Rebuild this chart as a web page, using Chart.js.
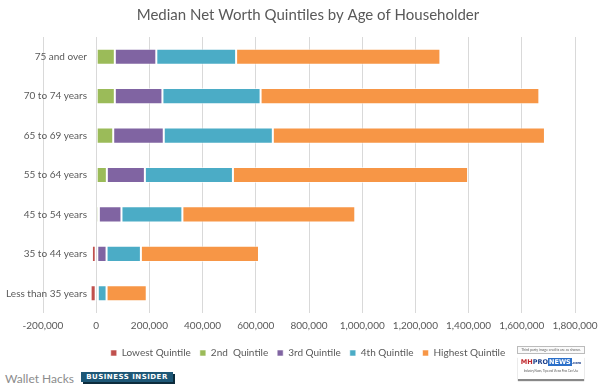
<!DOCTYPE html>
<html>
<head>
<meta charset="utf-8">
<script src="https://cdn.jsdelivr.net/npm/chart.js@4.4.0/dist/chart.umd.min.js"></script>
<style>
  html, body { margin:0; padding:0; background:#fff; width:600px; height:391px; overflow:hidden; }
  #wrap { position:absolute; left:0; top:0; width:620px; height:368px; }
  .src { position:absolute; font-family:Lato, sans-serif; white-space:nowrap; }
  #wh { left:5px; top:371px; font-size:12px; color:#8c8c8c; }
  #bi { left:81px; top:372px; width:92px; height:10px; background:#1d5776; color:#fff;
        font-family:"DejaVu Sans", sans-serif; font-weight:bold; font-size:7px; line-height:10px;
        letter-spacing:0.5px; text-align:center; box-shadow:2px 2px 0 #0c2c3c; }
  #mh { left:517px; top:346px; width:68px; height:36px; }
  #mh .cr { position:absolute; left:0; top:0; width:66px; height:6px; border:1px solid #bbb; background:#fafafa;
            font-size:3.5px; line-height:6px; color:#666; text-align:center; }
  #mh .lg { position:absolute; left:1px; top:10px; width:66px; height:23px; background:#fff;
            box-shadow:0 2px 1px #888; text-align:center; }
  #mh .nm { font-family:"DejaVu Sans", sans-serif; font-weight:bold; font-size:6.5px; line-height:12px; }
  #mh .tg { font-size:2.8px; color:#555; line-height:4px; }
</style>
</head>
<body>
<div id="wrap"><canvas id="chart" width="620" height="368"></canvas></div>
<div class="src" id="wh">Wallet Hacks</div>
<div class="src" id="bi">BUSINESS INSIDER</div>
<div class="src" id="mh">
  <div class="cr">Third party image credits are as shown.</div>
  <div class="lg">
    <div class="nm"><span style="color:#c0282d">MH</span><span style="color:#1b3f8b">PRO</span><span style="background:#2a6fc9;color:#fff;padding:0 1px">NEWS</span><span style="color:#1b3f8b;font-size:3.5px">.com</span></div>
    <div class="tg">Industry News, Tips and Views Pros Can Use</div>
  </div>
</div>
<script>
// age groups, top to bottom
const ageGroups = ['75 and over', '70 to 74 years', '65 to 69 years', '55 to 64 years',
                   '45 to 54 years', '35 to 44 years', 'Less than 35 years'];

// median net worth ($) per quintile
const lowestQ  = [0, 0, 0, 0, -4000, -16000, -21000];
const secondQ  = [70000, 70000, 64000, 40000, 10000, 4000, 1000];
const thirdQ   = [156000, 179000, 190000, 143000, 85000, 35000, 5000];
const fourthQ  = [300000, 369000, 410000, 331000, 229000, 129000, 33000];
const highestQ = [768000, 1048000, 1023000, 884000, 650000, 444000, 151000];

const seriesNames  = ['Lowest Quintile', '2nd  Quintile', '3rd Quintile', '4th Quintile', 'Highest Quintile'];
const seriesColors = ['#c0504d', '#9bbb59', '#8064a2', '#4bacc6', '#f79646'];
const xMin = -200000, xMax = 1800000, xStep = 200000;

const FONT = 'Lato, sans-serif';
const GREY = '#595959';
const Y_FONT = 10;

// category labels sit inside the plot, right-aligned just left of the 0 line
const plotLeft = 43, labelRight = 87;
const mctx = document.createElement('canvas').getContext('2d');
mctx.font = `normal ${Y_FONT}px ${FONT}`;
const widest = Math.max(...ageGroups.map(t => mctx.measureText(t).width));

const datasets = [lowestQ, secondQ, thirdQ, fourthQ, highestQ].map((vals, i) => ({
  label: seriesNames[i],
  data: vals,
  backgroundColor: seriesColors[i],
  borderColor: 'rgba(255,255,255,0.55)',
  borderWidth: 1,
  borderSkipped: false,
  barPercentage: 0.41,
  categoryPercentage: 1,
}));

new Chart(document.getElementById('chart'), {
  type: 'bar',
  data: { labels: ageGroups, datasets },
  options: {
    indexAxis: 'y',
    responsive: false,
    animation: false,
    layout: { padding: { left: 41, right: 45, top: 0, bottom: 0 } },
    plugins: {
      title: {
        display: true,
        text: 'Median Net Worth Quintiles by Age of Householder',
        color: GREY,
        font: { family: FONT, size: 15, weight: 'normal' },
        padding: { top: 6, bottom: 13 }
      },
      legend: {
        position: 'bottom',
        labels: {
          color: GREY,
          font: { family: FONT, size: 10 },
          boxWidth: 6, boxHeight: 6,
          padding: 9
        }
      },
      tooltip: { enabled: false }
    },
    scales: {
      x: {
        stacked: true,
        min: xMin, max: xMax,
        ticks: {
          stepSize: xStep,
          color: GREY,
          font: { family: FONT, size: 10 },
          padding: 7,
          maxRotation: 0,
          callback: v => v.toLocaleString('en-US')
        },
        grid: { color: '#d9d9d9', drawTicks: false },
        border: { display: false }
      },
      y: {
        stacked: true,
        afterFit: s => { s.width = 2; },
        ticks: {
          color: GREY,
          font: { family: FONT, size: Y_FONT },
          mirror: true,
          crossAlign: 'far',
          padding: labelRight - plotLeft - widest
        },
        grid: { display: false },
        border: { display: false }
      }
    }
  }
});
</script>
</body>
</html>
